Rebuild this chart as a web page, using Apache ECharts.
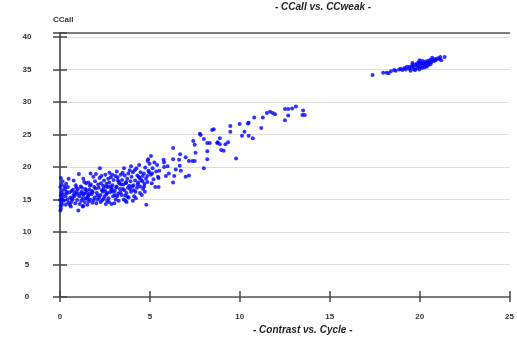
<!DOCTYPE html>
<html><head><meta charset="utf-8">
<script src="https://cdn.jsdelivr.net/npm/echarts@6/dist/echarts.min.js"></script>
<style>html,body{margin:0;padding:0;background:#fff}#c{width:517px;height:340px}</style>
</head><body><div id="c"></div>
<script>
var chartTitle = '- CCall vs. CCweak -';
var xName = '- Contrast vs. Cycle -';
var yName = 'CCall';
var xTicks = [0, 5, 10, 15, 20, 25];
var yTicks = [0, 5, 10, 15, 20, 25, 30, 35, 40];

var clusterLow = [
[0.02,13.3],[0.05,13.6],[0.03,14.0],[0.08,14.5],[0.01,14.9],[0.1,15.3],[0.04,15.6],[0.07,16.0],[0.12,16.4],[0.02,16.9],[0.09,17.3],[0.05,18.3],[0.15,15.0],[0.11,14.2],
[0.22,14.8],[0.3,15.5],[0.35,16.2],[0.41,15.0],[0.28,16.6],[0.46,14.5],[0.38,15.9],[0.25,17.0],[0.48,18.2],
[0.55,14.2],[0.62,14.6],[0.7,15.0],[0.58,15.3],[0.75,15.7],[0.83,16.0],[0.66,16.3],[0.9,16.8],[0.95,14.9],[0.79,15.5],[0.72,16.5],[0.88,17.2],[0.6,13.9],[0.97,15.8],[0.52,16.1],
[1.02,13.3],[1.1,14.3],[1.18,14.8],[1.25,15.1],[1.08,15.5],[1.33,15.9],[1.21,16.2],[1.4,16.6],[1.15,17.0],[1.45,17.5],[1.05,18.9],[1.37,14.6],[1.29,15.7],[1.48,16.4],[1.35,17.7],[1.22,16.8],[1.42,15.2],
[1.52,14.2],[1.6,14.7],[1.68,15.0],[1.55,15.4],[1.75,15.8],[1.82,16.1],[1.64,16.5],[1.9,16.9],[1.72,17.3],[1.95,17.8],[1.85,18.5],[1.58,15.6],[1.78,16.3],[1.66,17.1],[1.88,14.9],[1.7,19.0],[1.98,16.7],
[2.02,14.4],[2.1,15.0],[2.18,15.3],[2.25,15.7],[2.05,16.0],[2.33,16.4],[2.15,16.8],[2.4,17.1],[2.28,17.5],[2.45,17.9],[2.2,18.3],[2.22,19.8],[2.38,16.2],[2.48,15.5],[2.12,17.3],[2.42,16.6],[2.3,18.6],[2.35,14.9],
[2.55,14.3],[2.62,14.8],[2.7,15.2],[2.58,15.8],[2.78,16.1],[2.85,16.5],[2.66,16.9],[2.92,17.2],[2.74,17.6],[2.98,18.0],[2.82,18.4],[2.9,18.8],[2.52,16.3],[2.6,17.4],[2.95,15.5],[2.8,17.0],[2.68,18.2],[2.88,16.7],
[3.02,14.4],[3.1,15.0],[3.18,15.5],[3.25,15.9],[3.05,16.3],[3.33,16.6],[3.15,17.0],[3.4,17.3],[3.28,17.7],[3.45,18.0],[3.2,18.4],[3.38,18.8],[3.48,19.1],[3.12,16.8],[3.3,17.5],[3.42,15.7],[3.08,18.6],[3.22,17.9],
[3.55,15.0],[3.62,15.6],[3.7,16.0],[3.58,16.4],[3.78,16.8],[3.85,17.1],[3.66,17.5],[3.92,17.8],[3.74,18.2],[3.98,18.5],[3.8,19.0],[3.88,19.5],[3.52,17.3],[3.95,16.2],[3.6,18.7],[3.82,15.3],[3.68,17.7],
[4.05,14.8],[4.12,15.5],[4.2,16.2],[4.28,16.8],[4.08,17.2],[4.35,17.6],[4.18,17.9],[4.42,18.3],[4.3,18.7],[4.48,19.2],[4.25,19.8],[4.4,20.3],[4.02,17.0],[4.38,18.5],[4.45,16.0],[4.15,19.5],
[4.8,14.2],[4.55,15.7],[4.62,16.6],[4.7,17.4],[4.58,17.8],[4.78,18.2],[4.85,18.6],[4.66,19.0],[4.92,19.4],[4.74,19.9],[4.98,20.5],[4.88,20.9],[4.52,18.0],[4.95,19.2],[4.68,17.0],[4.9,21.2],
[5.3,16.9],[5.1,17.5],[5.2,18.1],[5.45,18.5],[5.05,18.8],[5.35,19.3],[5.15,19.8],[5.4,20.3],[5.25,20.7],[5.06,21.7],[5.48,18.3],[5.12,19.0]
];

var clusterLowExtra = [
[0.18,15.8],[0.32,14.2],[0.44,16.9],[0.65,15.1],[0.85,14.4],[0.92,16.2],[1.12,15.9],[1.3,14.0],[1.44,16.0],[1.62,15.9],
[1.8,14.5],[1.92,15.3],[2.08,15.6],[2.26,14.6],[2.44,15.1],[2.56,17.0],[2.72,14.6],[2.94,16.2],[3.06,15.7],[3.26,14.8],
[3.36,16.1],[3.5,16.6],[3.64,14.8],[3.76,15.4],[3.9,16.6],[4.1,16.4],[4.22,15.2],[4.32,17.3],[4.46,17.0],[4.6,18.6],
[4.72,16.2],[4.86,17.7],[1.3,18.2],[1.58,17.6],[2.0,18.9],[2.52,18.8],[2.75,19.1],[3.16,19.3],[3.56,19.8],[4.05,19.2],
[0.14,17.8],[0.34,17.4],[0.76,17.9],[1.0,16.6],[1.26,13.9],[1.5,15.1],[2.62,16.0],[2.86,14.3],[3.7,14.6],[3.95,20.1]
];

var clusterMid = [
[5.76,21.1],[5.79,20.7],[5.52,19.4],[5.48,16.9],[5.79,20.0],[5.89,18.6],[5.98,20.1],[6.05,19.0],
[6.29,22.9],[6.68,21.95],[6.99,21.5],[6.29,21.2],[6.62,21.1],[7.17,20.9],[7.36,20.9],[7.49,20.9],[8.19,21.2],
[6.66,20.2],[6.72,19.4],[8.0,19.8],[6.44,19.6],[6.35,18.6],[6.99,18.5],[7.17,18.7],[6.29,17.6],
[7.78,25.1],[8.46,25.7],[7.41,24.0],[7.49,23.4],[8.19,23.7],[8.33,23.7],[8.74,23.7],[7.54,22.2],[8.19,22.4],
[8.55,25.8],[8.89,24.4],[8.77,23.8],[8.89,23.5],[9.35,23.8],[9.2,23.5],[8.96,22.6],[9.1,22.5],
[9.47,26.3],[9.47,25.4],[9.99,26.6],[10.26,25.4],[10.12,24.8],[10.49,24.8],[10.72,24.4],[10.49,26.8],
[11.19,26.0],[10.8,27.6],[11.28,27.6],[11.5,28.3],[11.68,28.5],[11.83,28.3],[11.96,28.1],
[12.51,28.9],[12.69,28.9],[12.91,29.0],[12.69,27.9],[12.51,27.2],[13.12,29.3],[13.52,28.7],[13.48,28.0],[13.61,28.0],
[9.79,21.3],[10.45,26.7],[7.82,24.9],[8.0,24.3]
];

var clusterHigh = [
[17.38,34.15],[17.97,34.5],[18.16,34.5],[18.27,34.4],[18.58,34.92],[18.67,34.8],[18.86,35.0],[19.04,34.9],[19.22,35.0],[19.4,35.1],
[19.55,35.3],[19.68,35.4],[19.77,35.7],[19.87,35.5],[20.0,35.8],[20.1,35.95],[20.23,36.0],[20.33,36.2],[20.47,36.35],[20.6,36.5],
[20.73,36.5],[20.88,36.6],[21.03,36.7],[21.15,36.9],[21.39,36.9],
[19.3,35.4],[19.5,34.8],[19.6,35.7],[19.7,35.0],[19.85,35.9],[19.9,35.2],[20.05,35.4],[20.15,36.3],[20.2,35.6],[20.3,35.7],
[20.4,36.0],[20.5,35.9],[20.55,36.2],[20.65,36.1],[20.8,36.3],[20.9,36.4],[21.1,36.6],[21.2,36.4],[19.95,36.1],[19.45,35.4],
[18.4,34.7],[18.95,35.1],[19.15,35.2],[20.25,35.3],
[19.75,34.9],[19.98,35.0],[20.12,35.2],[20.38,35.4],[20.45,35.6],[20.6,35.8],[19.6,36.0],[20.0,36.4],[20.7,36.8]
];

var points = clusterLow.concat(clusterLowExtra, clusterMid, clusterHigh);

var chart = echarts.init(document.getElementById('c'), null, {renderer: 'canvas'});
var lblFont = {fontFamily: 'Liberation Sans, Arial, sans-serif', fontSize: 8, fontWeight: 'bold', color: '#333'};
var tickStyle = {color: '#444', width: 1.5};
chart.setOption({
  animation: false,
  backgroundColor: '#fff',
  title: [
    {text: chartTitle, left: 270, top: -3,
     textStyle: {fontFamily: 'Liberation Sans, Arial, sans-serif', fontSize: 10, fontWeight: 'bold', fontStyle: 'italic', color: '#222'}},
    {text: xName, left: 248, top: 320,
     textStyle: {fontFamily: 'Liberation Sans, Arial, sans-serif', fontSize: 10, fontWeight: 'bold', fontStyle: 'italic', color: '#222'}}
  ],
  grid: {left: 60, right: 5, top: 33, bottom: 43, containLabel: false},
  xAxis: [
    {type: 'value', min: xTicks[0], max: xTicks[xTicks.length - 1], interval: 5, position: 'bottom',
     axisLine: {lineStyle: {color: '#555', width: 1.5}},
     axisTick: {show: true, inside: false, length: 5, lineStyle: tickStyle},
     axisLabel: Object.assign({margin: 16}, lblFont),
     splitLine: {show: false}},
    {type: 'value', min: xTicks[0], max: xTicks[xTicks.length - 1], interval: 5, position: 'bottom',
     axisLine: {show: false},
     axisTick: {show: true, inside: true, length: 6, lineStyle: tickStyle},
     axisLabel: {show: false}, splitLine: {show: false}},
    {type: 'value', min: xTicks[0], max: xTicks[xTicks.length - 1], position: 'top',
     axisLine: {show: true, lineStyle: {color: '#555', width: 1.5}},
     axisTick: {show: false}, axisLabel: {show: false}, splitLine: {show: false}}
  ],
  yAxis: [
    {type: 'value', min: yTicks[0], max: 40.6, interval: 5,
     name: yName, nameLocation: 'end', nameGap: 9,
     nameTextStyle: Object.assign({align: 'left', padding: [0, 0, 0, -7]}, lblFont),
     axisLine: {show: true, lineStyle: {color: '#333', width: 1.5}},
     axisTick: {show: true, inside: false, length: 7, lineStyle: tickStyle},
     axisLabel: Object.assign({margin: 33, align: 'center',
       formatter: function (v) { return yTicks.indexOf(v) >= 0 ? String(v) : ''; }}, lblFont),
     splitLine: {show: true, lineStyle: {color: '#ddd', width: 1}}},
    {type: 'value', min: yTicks[0], max: 40.6, interval: 5, position: 'left',
     axisLine: {show: false},
     axisTick: {show: true, inside: true, length: 7, lineStyle: tickStyle},
     axisLabel: {show: false}, splitLine: {show: false}}
  ],
  series: [{
    type: 'scatter', xAxisIndex: 0, yAxisIndex: 0,
    data: points, symbol: 'circle', symbolSize: 4,
    itemStyle: {color: '#0000ff'}
  }]
});
</script></body></html>
